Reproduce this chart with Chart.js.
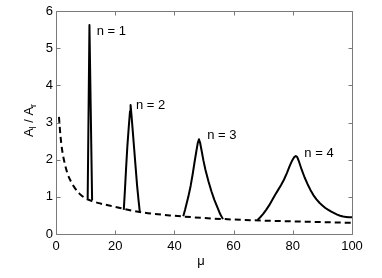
<!DOCTYPE html>
<html>
<head>
<meta charset="utf-8">
<script src="https://cdn.jsdelivr.net/npm/chart.js@4"></script>
<style>
  html, body { margin: 0; padding: 0; background: #fff; }
  #grafico { display: block; }
</style>
</head>
<body>
<canvas id="grafico" width="382" height="278"></canvas>
<script>
// Datos
const muTicks = [0, 20, 40, 60, 80, 100];
const ratioTicks = [0, 1, 2, 3, 4, 5, 6];

// Curva de fondo (discontinua)
const fondoMu =    [1, 1.5, 2, 3, 4, 5, 6, 8, 10, 12, 15, 20, 25, 30, 40, 50, 60, 70, 80, 90, 100];
const fondoRatio = [3.15, 2.65, 2.3, 1.88, 1.6, 1.42, 1.28, 1.08, 0.96, 0.89, 0.82, 0.73, 0.64, 0.57, 0.49, 0.43, 0.39, 0.36, 0.34, 0.32, 0.30];

// Resonancias n = 1..4
const pico1Mu =    [10.7, 11.3, 12.2];
const pico1Ratio = [0.95, 5.62, 0.91];

const pico2Mu =    [22.9, 23.3, 23.7, 24.1, 24.6, 25.0, 25.2, 25.5, 25.9, 26.4, 26.9, 27.4, 27.9, 28.3];
const pico2Ratio = [0.65, 1.2, 1.8, 2.35, 2.9, 3.3, 3.47, 3.2, 2.8, 2.3, 1.8, 1.3, 0.9, 0.6];

const pico3Mu =    [43.0, 43.6, 44.7, 45.5, 46.2, 46.8, 47.4, 47.9, 48.3, 48.7, 49.2, 49.8, 50.5, 51.5, 52.5, 53.5, 54.5, 55.5, 56.4];
const pico3Ratio = [0.48, 0.65, 1.0, 1.3, 1.62, 1.93, 2.22, 2.45, 2.55, 2.45, 2.24, 1.98, 1.72, 1.42, 1.15, 0.92, 0.72, 0.53, 0.4];

const pico4Mu =    [68.1, 69, 70, 71, 72, 73, 74, 75, 76, 77, 78, 79, 79.8, 80.5, 81, 81.5, 82, 82.5, 83, 84, 85, 86, 87, 88, 89, 90, 91, 92, 93, 94, 95, 96, 97, 98, 99, 100];
const pico4Ratio = [0.38, 0.45, 0.54, 0.65, 0.77, 0.91, 1.05, 1.18, 1.31, 1.46, 1.64, 1.84, 1.98, 2.07, 2.10, 2.07, 1.97, 1.85, 1.73, 1.52, 1.34, 1.18, 1.04, 0.93, 0.84, 0.77, 0.70, 0.65, 0.60, 0.56, 0.52, 0.49, 0.47, 0.46, 0.45, 0.45];

const etiquetas = ['n = 1', 'n = 2', 'n = 3', 'n = 4'];

const fuente = 'Liberation Sans, Arial, Helvetica, sans-serif';

function puntos(xs, ys) {
    return xs.map((x, i) => ({ x: x, y: ys[i] }));
}

function serie(xs, ys) {
    return {
        data: puntos(xs, ys),
        borderColor: '#000',
        borderWidth: 2,
        pointRadius: 0,
        fill: false,
        tension: 0,
        borderJoinStyle: 'round'
    };
}

// Marco tipo MATLAB, marcas hacia dentro, etiquetas y títulos
const marcoPlugin = {
    id: 'marco',
    afterDraw(chart) {
        const ctx = chart.ctx;
        const a = chart.chartArea;
        const x = chart.scales.x;
        const y = chart.scales.y;
        const L = Math.round(a.left) + 0.5;
        const R = Math.round(a.right) + 0.5;
        const T = Math.round(a.top) + 0.5;
        const B = Math.round(a.bottom) + 0.5;
        const largo = 4;

        ctx.save();
        ctx.strokeStyle = '#7a7a7a';
        ctx.lineWidth = 1;
        ctx.beginPath();
        ctx.rect(L, T, R - L, B - T);
        muTicks.forEach(v => {
            const px = Math.round(x.getPixelForValue(v)) + 0.5;
            ctx.moveTo(px, B); ctx.lineTo(px, B - largo);
            ctx.moveTo(px, T); ctx.lineTo(px, T + largo);
        });
        ratioTicks.forEach(v => {
            const py = Math.round(y.getPixelForValue(v)) + 0.5;
            ctx.moveTo(L, py); ctx.lineTo(L + largo, py);
            ctx.moveTo(R, py); ctx.lineTo(R - largo, py);
        });
        ctx.stroke();

        // Etiquetas de cada resonancia
        const anclas = [[13.75, 5.35], [27.0, 3.36], [51.1, 2.55], [83.9, 2.08]];
        ctx.fillStyle = '#000';
        ctx.font = '13px ' + fuente;
        ctx.textAlign = 'left';
        ctx.textBaseline = 'alphabetic';
        etiquetas.forEach((t, i) => {
            ctx.fillText(t, x.getPixelForValue(anclas[i][0]), y.getPixelForValue(anclas[i][1]));
        });

        // Título eje x
        ctx.textAlign = 'center';
        ctx.fillText('μ', 201, 265);

        // Título eje y: A_l / A_r
        const partes = [
            { t: 'A', sub: false },
            { t: 'l', sub: true },
            { t: ' / ', sub: false },
            { t: 'A', sub: false },
            { t: 'r', sub: true }
        ];
        const fNormal = '13px ' + fuente;
        const fSub = '9px ' + fuente;
        let total = 0;
        partes.forEach(p => {
            ctx.font = p.sub ? fSub : fNormal;
            p.w = ctx.measureText(p.t).width;
            total += p.w;
        });
        ctx.translate(33, 120.5);
        ctx.rotate(-Math.PI / 2);
        ctx.textAlign = 'left';
        let cx = -total / 2;
        partes.forEach(p => {
            ctx.font = p.sub ? fSub : fNormal;
            ctx.fillText(p.t, cx, p.sub ? 3 : 0);
            cx += p.w;
        });
        ctx.restore();
    }
};

const fondo = serie(fondoMu, fondoRatio);
fondo.borderDash = [6, 4];
fondo.cubicInterpolationMode = 'monotone';

new Chart(document.getElementById('grafico'), {
    type: 'line',
    data: {
        datasets: [
            fondo,
            serie(pico1Mu, pico1Ratio),
            serie(pico2Mu, pico2Ratio),
            serie(pico3Mu, pico3Ratio),
            serie(pico4Mu, pico4Ratio)
        ]
    },
    options: {
        responsive: false,
        devicePixelRatio: 1,
        animation: false,
        layout: { padding: { top: 11, right: 30, left: 0, bottom: 0 } },
        plugins: {
            legend: { display: false },
            tooltip: { enabled: false }
        },
        scales: {
            x: {
                type: 'linear',
                min: 0,
                max: 100,
                grid: { display: false, drawTicks: false },
                border: { display: false },
                afterBuildTicks: s => { s.ticks = muTicks.map(v => ({ value: v })); },
                afterFit: s => { s.height = 44; },
                ticks: {
                    color: '#000',
                    padding: 5,
                    maxRotation: 0,
                    font: { family: fuente, size: 13 }
                }
            },
            y: {
                type: 'linear',
                min: 0,
                max: 6,
                grid: { display: false, drawTicks: false },
                border: { display: false },
                afterBuildTicks: s => { s.ticks = ratioTicks.map(v => ({ value: v })); },
                afterFit: s => { s.width = 56; },
                ticks: {
                    color: '#000',
                    padding: 3,
                    font: { family: fuente, size: 13 }
                }
            }
        }
    },
    plugins: [marcoPlugin]
});
</script>
</body>
</html>
